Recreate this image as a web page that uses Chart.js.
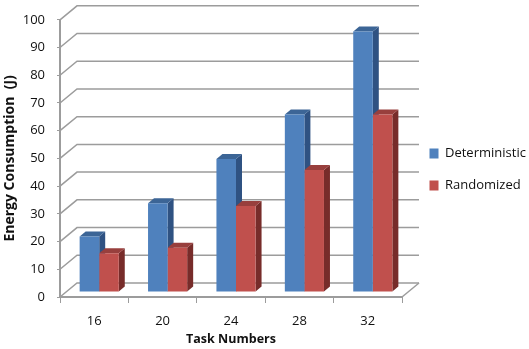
<!DOCTYPE html>
<html>
<head>
<meta charset="utf-8">
<script src="https://cdn.jsdelivr.net/npm/chart.js@4"></script>
<style>
  html, body { margin: 0; padding: 0; background: #fff; }
  #wrap { width: 529px; height: 349px; }
</style>
</head>
<body>
<div id="wrap"><canvas id="chart"></canvas></div>
<script>
const taskNumbers = ['16', '20', '24', '28', '32'];
const deterministic = [20, 32, 48, 64, 94];
const randomized = [14, 16, 31, 44, 64];

const fontFamily = '"Open Sans", sans-serif';
const axisGrey = '#9c9c9c';
const faces = [
    { top: '#3c6596', side: '#2f5282' },
    { top: '#983f3d', side: '#772c2a' }
];

// 3D look of the old Excel chart: bars sit in a plane between front axis and back wall
const barShift = { x: 5, y: -5 };
const barDepth = { x: 6, y: -5 };
const wallShift = { x: 17, y: -14 };

const wall3d = {
    id: 'wall3d',
    beforeDatasetsDraw(chart) {
        const ctx = chart.ctx;
        const area = chart.chartArea;
        const yScale = chart.scales.y;
        ctx.save();
        ctx.strokeStyle = axisGrey;
        ctx.lineWidth = 1.5;
        yScale.ticks.forEach(t => {
            const py = yScale.getPixelForValue(t.value);
            ctx.beginPath();
            ctx.moveTo(area.left, py);
            ctx.lineTo(area.left + wallShift.x, py + wallShift.y);
            ctx.lineTo(area.right + wallShift.x, py + wallShift.y);
            ctx.stroke();
        });
        ctx.beginPath();
        ctx.moveTo(area.right, area.bottom);
        ctx.lineTo(area.right + wallShift.x, area.bottom + wallShift.y);
        ctx.stroke();
        ctx.restore();

        // stays open until afterDatasetsDraw so the native bars get shifted too
        ctx.save();
        ctx.translate(barShift.x, barShift.y);
        chart.data.datasets.forEach((ds, i) => {
            chart.getDatasetMeta(i).data.forEach(bar => {
                const left = bar.x - bar.width / 2;
                const right = bar.x + bar.width / 2;
                ctx.fillStyle = faces[i].side;
                ctx.beginPath();
                ctx.moveTo(right, bar.y);
                ctx.lineTo(right + barDepth.x, bar.y + barDepth.y);
                ctx.lineTo(right + barDepth.x, bar.base + barDepth.y);
                ctx.lineTo(right, bar.base);
                ctx.closePath();
                ctx.fill();
                ctx.fillStyle = faces[i].top;
                ctx.beginPath();
                ctx.moveTo(left, bar.y);
                ctx.lineTo(left + barDepth.x, bar.y + barDepth.y);
                ctx.lineTo(right + barDepth.x, bar.y + barDepth.y);
                ctx.lineTo(right, bar.y);
                ctx.closePath();
                ctx.fill();
            });
        });
    },
    afterDatasetsDraw(chart) {
        chart.ctx.restore();
    },
    afterLayout(chart) {
        const legend = chart.legend;
        legend.left = 410.5;
        legend.right = 529;
        legend.top = 128;
        legend.bottom = 349;
    }
};

new Chart(document.getElementById('chart'), {
    type: 'bar',
    data: {
        labels: taskNumbers,
        datasets: [
            {
                label: 'Deterministic',
                data: deterministic,
                backgroundColor: '#4f81bd'
            },
            {
                label: 'Randomized',
                data: randomized,
                backgroundColor: '#c0504d'
            }
        ]
    },
    options: {
        animation: false,
        responsive: true,
        maintainAspectRatio: false,
        categoryPercentage: 0.572,
        barPercentage: 1,
        layout: {
            padding: { top: 18, right: 127, bottom: 0, left: 0 }
        },
        plugins: {
            tooltip: { enabled: false },
            legend: {
                position: 'chartArea',
                align: 'start',
                labels: {
                    boxWidth: 9,
                    boxHeight: 10,
                    padding: 19,
                    color: '#111',
                    font: { family: fontFamily, size: 13 }
                }
            }
        },
        scales: {
            x: {
                afterFit: s => { s.height = 52; },
                title: {
                    display: true,
                    text: 'Task Numbers',
                    color: '#111',
                    font: { family: fontFamily, size: 12.5, weight: 'bold' },
                    padding: { top: 0, bottom: 2 }
                },
                grid: { drawOnChartArea: false, color: axisGrey, tickLength: 6 },
                border: { color: axisGrey, width: 2 },
                ticks: {
                    color: '#111',
                    padding: 10,
                    font: { family: fontFamily, size: 13 }
                }
            },
            y: {
                min: 0,
                max: 100,
                afterFit: s => { s.width = 60; },
                title: {
                    display: true,
                    text: 'Energy Consumption  (J)',
                    color: '#111',
                    font: { family: fontFamily, size: 14, weight: 'bold' },
                    padding: { top: 2, bottom: 0 }
                },
                grid: { drawOnChartArea: false, color: axisGrey, tickLength: 3 },
                border: { color: axisGrey, width: 2 },
                ticks: {
                    stepSize: 10,
                    color: '#111',
                    padding: 12,
                    font: { family: fontFamily, size: 13 }
                }
            }
        }
    },
    plugins: [wall3d]
});
</script>
</body>
</html>
